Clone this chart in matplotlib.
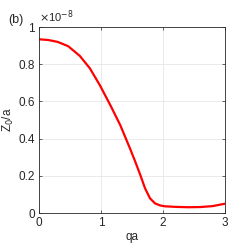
import matplotlib
matplotlib.use("Agg")
import matplotlib.pyplot as plt

# data (Z0/a in units of 1e-8)
qa = [0.0, 0.15, 0.30, 0.47, 0.66, 0.82, 0.98, 1.15, 1.31, 1.47, 1.55, 1.63, 1.71,
      1.79, 1.87, 1.95, 2.03, 2.2, 2.4, 2.6, 2.8, 3.0]
z0 = [0.934, 0.93, 0.92, 0.897, 0.844, 0.778, 0.688, 0.58, 0.473, 0.345, 0.278, 0.208, 0.133,
      0.079, 0.052, 0.041, 0.036, 0.033, 0.031, 0.032, 0.037, 0.05]
xticks = [0, 1, 2, 3]
yticks = [0, 0.2, 0.4, 0.6, 0.8, 1]
yticklabels = ["0", "0.2", "0.4", "0.6", "0.8", "1"]

plt.rcParams['font.family'] = ['Liberation Sans', 'DejaVu Sans']
fig = plt.figure(figsize=(2.49, 2.50), dpi=100)
ax = fig.add_axes([39/249, 37/250, 186/249, 186/250])
ax.plot(qa, z0, color='#ff0000', lw=1.6, solid_joinstyle='round')
ax.set_xlim(0, 3)
ax.set_ylim(0, 1)
ax.set_xticks(xticks)
ax.set_yticks(yticks)
ax.set_yticklabels(yticklabels)
ax.grid(True, color='#e6e6e6', lw=0.6)
ax.set_axisbelow(True)
ax.tick_params(direction='in', length=2.5, width=0.5, colors='#262626', labelsize=8.5,
               top=True, right=True, labelcolor='#262626', pad=3)
for s in ax.spines.values():
    s.set_color('#262626')
    s.set_linewidth(0.6)
ax.set_xlabel('qa', fontsize=8.5, color='#262626', labelpad=1)
ax.set_ylabel('Z$_0$/a', fontsize=8.5, color='#262626', labelpad=2)
ax.text(0.0, 1.012, r'$\times$10$^{-8}$', transform=ax.transAxes, fontsize=8, color='#262626',
        ha='left', va='bottom')
fig.text(8/249, 1 - 20/250, '(b)', fontsize=9, color='#262626', ha='left', va='center')
fig.savefig('out.png', dpi=100)
